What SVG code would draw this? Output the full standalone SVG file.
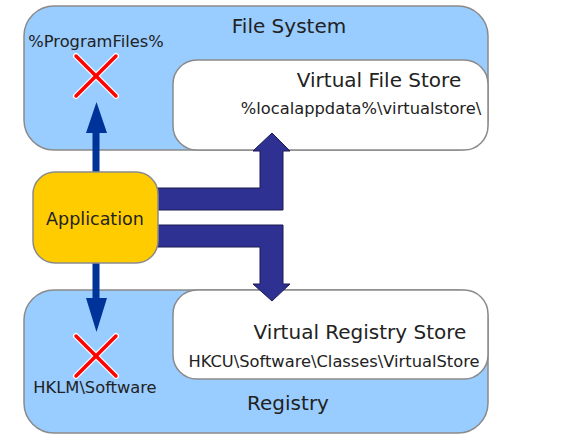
<svg xmlns="http://www.w3.org/2000/svg" width="563" height="446" viewBox="0 0 563 446">
<style>
.area{fill:#99CCFF;stroke:#8a8a8a;stroke-width:1.5}
.store{fill:#FFFFFF;stroke:#8a8a8a;stroke-width:1.5}
.app{fill:#FFCC00;stroke:#8a8a8a;stroke-width:1.5}
.t{font-family:"DejaVu Sans",Verdana,sans-serif;fill:#222;text-anchor:middle}
.big{font-size:20px}
.small{font-size:16.3px}
.fat{fill:#2E3192;stroke:#1b1b50;stroke-width:1}
.thin{fill:#003399}
.xh{stroke:#fff;stroke-width:6;stroke-linecap:round;fill:none}
.xr{stroke:#FF0000;stroke-width:3.5;stroke-linecap:round;fill:none}
</style>
<rect width="563" height="446" fill="#fff"/>
<g id="filesystem">
<rect class="area" x="24" y="6" width="464" height="144" rx="30"/>
<text class="t big" x="289" y="33">File System</text>
<text class="t small" x="96" y="47">%ProgramFiles%</text>
</g>
<g id="virtualfilestore">
<rect class="store" x="173" y="60" width="315" height="90" rx="24"/>
<text class="t big" x="379" y="87">Virtual File Store</text>
<text class="t small" x="361" y="114">%localappdata%\virtualstore\</text>
</g>
<g id="registry">
<rect class="area" x="24" y="290" width="464" height="143" rx="30"/>
<text class="t big" x="288" y="410">Registry</text>
<text class="t small" x="95" y="393">HKLM\Software</text>
</g>
<g id="virtualregistrystore">
<rect class="store" x="173" y="290" width="315" height="89" rx="24"/>
<text class="t big" x="360" y="339">Virtual Registry Store</text>
<text class="t small" x="334" y="367">HKCU\Software\Classes\VirtualStore</text>
</g>
<g id="blocked-programfiles">
<line class="xh" x1="76" y1="56" x2="116" y2="96"/>
<line class="xh" x1="116" y1="56" x2="76" y2="96"/>
<line class="xr" x1="76" y1="56" x2="116" y2="96"/>
<line class="xr" x1="116" y1="56" x2="76" y2="96"/>
</g>
<g id="blocked-hklm">
<line class="xh" x1="76" y1="336" x2="116" y2="376"/>
<line class="xh" x1="116" y1="336" x2="76" y2="376"/>
<line class="xr" x1="76" y1="336" x2="116" y2="376"/>
<line class="xr" x1="116" y1="336" x2="76" y2="376"/>
</g>
<g id="connectors">
<polygon class="thin" points="92.5,173 99.5,173 99.5,133 107,133 96.5,102 86,133 92.5,133"/>
<polygon class="thin" points="92.5,262 99.5,262 99.5,298 107,298 96.5,332 86,298 92.5,298"/>
<polygon class="fat" points="150,188 260,188 260,151 253,151 272,133 290,151 283,151 283,210 150,210"/>
<polygon class="fat" points="150,225 283,225 283,284 290,284 272,301 253,284 260,284 260,247 150,247"/>
</g>
<g id="application">
<rect class="app" x="33" y="172" width="125" height="91" rx="22"/>
<text class="t" style="font-size:17.5px" x="95" y="225">Application</text>
</g>
</svg>
